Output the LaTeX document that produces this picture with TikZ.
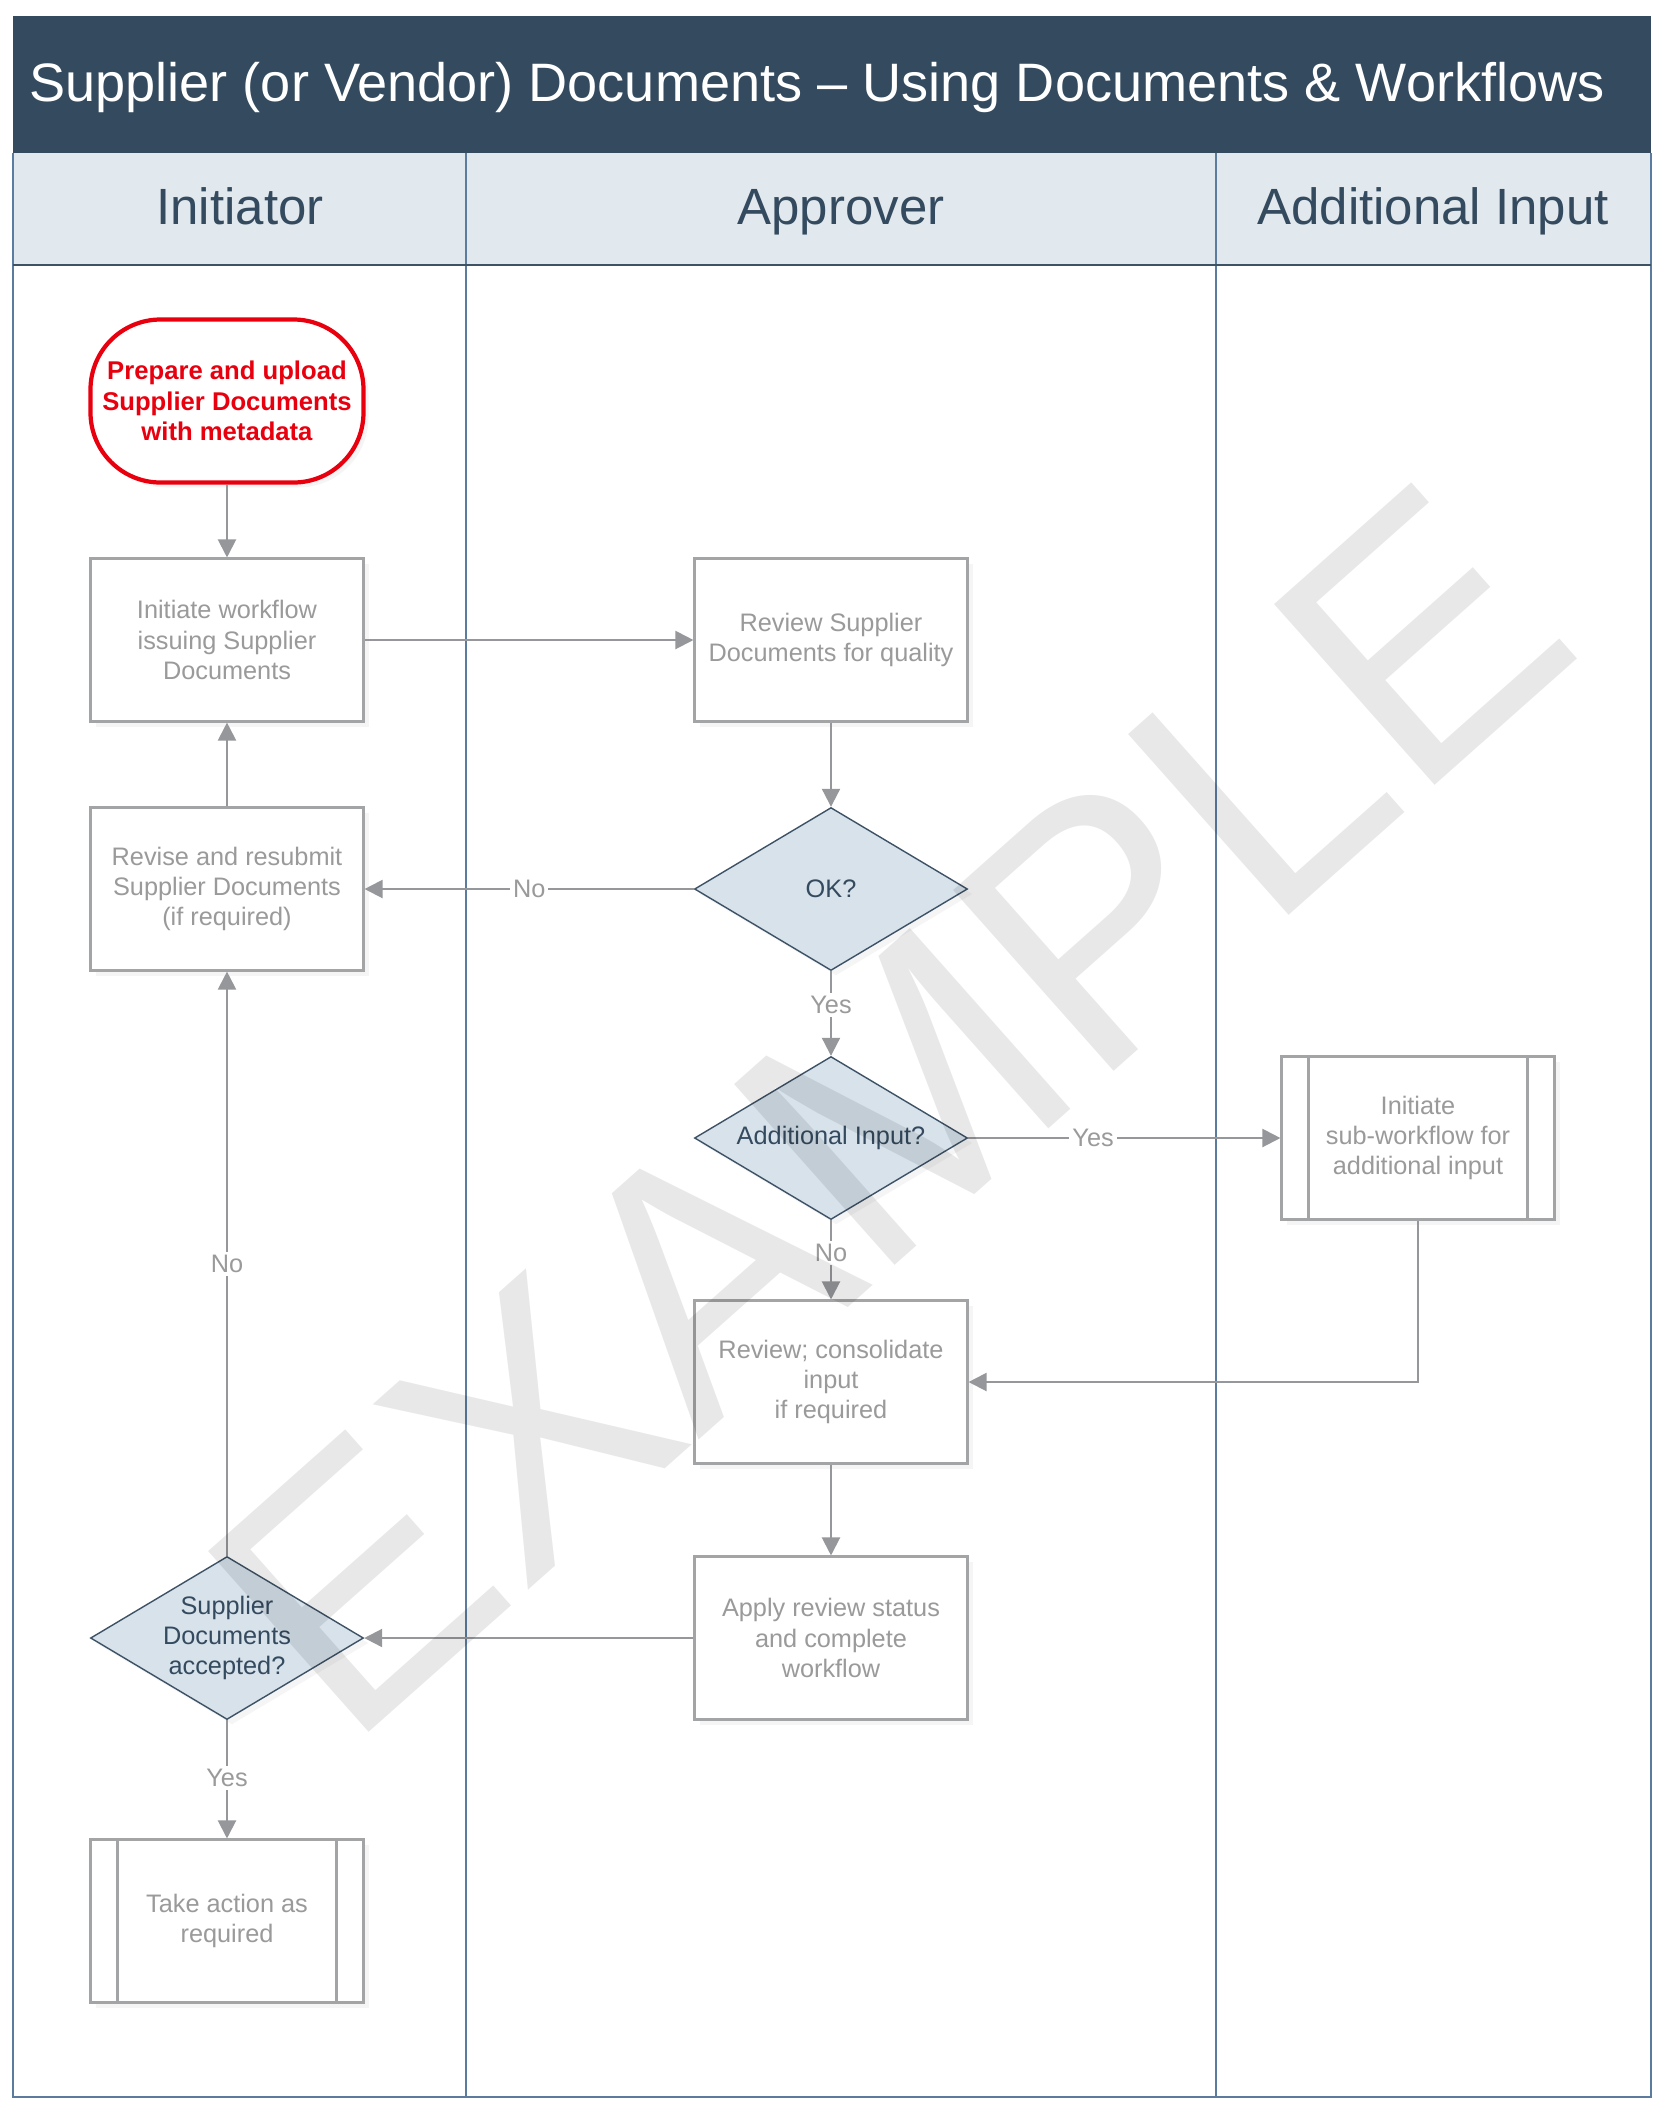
\documentclass[tikz,border=0pt]{standalone}
\usepackage{fontspec}
\setmainfont{Liberation Sans}
\usetikzlibrary{shapes.geometric,arrows.meta,shadows}
\definecolor{titlebar}{HTML}{344A5E}
\definecolor{headfill}{HTML}{E1E8EE}
\definecolor{laneline}{HTML}{5B7C9E}
\definecolor{boxgrey}{HTML}{A2A4A6}
\definecolor{boxtext}{HTML}{9A9A9A}
\definecolor{flowgrey}{HTML}{95979A}
\definecolor{decfill}{HTML}{D7E2EB}
\definecolor{decline}{HTML}{3E5266}
\definecolor{startred}{HTML}{E8000F}

\begin{document}
\begin{tikzpicture}[x=0.1mm, y=-0.1mm,
  box/.style={draw=boxgrey, line width=0.6pt, fill=white, minimum width=27.3mm,
    minimum height=16.3mm, align=center, text=boxtext, inner sep=1mm,
    font=\fontsize{7.2}{8.6}\selectfont,
    drop shadow={opacity=0.08, shadow xshift=0.5mm, shadow yshift=-0.5mm}},
  startbox/.style={box, draw=startred, line width=1.2pt, rounded corners=7mm,
    text=startred, font=\fontsize{7.3}{8.6}\selectfont\bfseries},
  subproc/.style={box, path picture={
    \draw[boxgrey, line width=0.6pt]
      ([xshift=2.7mm]path picture bounding box.north west) -- ([xshift=2.7mm]path picture bounding box.south west)
      ([xshift=-2.7mm]path picture bounding box.north east) -- ([xshift=-2.7mm]path picture bounding box.south east);}},
  decision/.style={diamond, draw=decline, line width=0.4pt, fill=decfill, minimum width=27.3mm,
    minimum height=16.3mm, inner sep=0pt,
    drop shadow={opacity=0.08, shadow xshift=0.5mm, shadow yshift=-0.5mm}},
  dectext/.style={align=center, text=titlebar, font=\fontsize{7.2}{8.6}\selectfont, inner sep=0pt},
  flow/.style={draw=flowgrey, line width=0.6pt, -{Triangle[length=1.8mm, width=1.8mm]}},
  lbl/.style={fill=white, text=boxtext, inner sep=0.3mm, font=\fontsize{7.2}{8.6}\selectfont},
  lane/.style={draw=laneline, line width=0.5pt},
  lanehead/.style={anchor=base, text=titlebar, font=\fontsize{14.5}{17}\selectfont},
  watermark/.style={text=black, text opacity=0.09, font=\fontsize{100}{100}\selectfont}]

\useasboundingbox (0,0) rectangle (1666,2110);

% swimlanes
\fill[titlebar] (13,16) rectangle (1651,153);
\node[anchor=base west, text=white, font=\fontsize{15.4}{18}\selectfont] (title) at (17,101)
  {Supplier (or Vendor) Documents – Using Documents \& Workflows};
\fill[headfill] (13,153) rectangle (1651,265);
\draw[lane] (13,153) -- (13,2097) -- (1651,2097) -- (1651,153);
\draw[lane] (466,153) -- (466,2097);
\draw[lane] (1216,153) -- (1216,2097);
\draw[decline, line width=0.8pt] (13,265) -- (1651,265);
\node[lanehead] (hinit) at (240,224) {Initiator};
\node[lanehead] (happr) at (841,224) {Approver};
\node[lanehead] (hadd) at (1433,224) {Additional Input};

% steps
\node[startbox] (start) at (227,401) {Prepare and upload\\Supplier Documents\\with metadata};
\node[box] (init) at (227,640) {Initiate workflow\\issuing Supplier\\Documents};
\node[box] (rev) at (227,889) {Revise and resubmit\\Supplier Documents\\(if required)};
\node[decision, label={[dectext]center:{Supplier\\Documents\\accepted?}}] (acc) at (227,1638) {};
\node[subproc] (act) at (227,1921) {Take action as\\required};

\node[box] (review) at (831,640) {Review Supplier\\Documents for quality};
\node[decision, label={[dectext]center:OK?}] (ok) at (831,889) {};
\node[decision, label={[dectext]center:Additional Input?}] (addin) at (831,1138) {};
\node[box] (cons) at (831,1382) {Review; consolidate\\input\\if required};
\node[box] (apply) at (831,1638) {Apply review status\\and complete\\workflow};

\node[subproc] (sub) at (1418,1138) {Initiate\\sub-workflow for\\additional input};

% connectors
\draw[flow] (start) -- (init);
\draw[flow] (init) -- (review);
\draw[flow] (review) -- (ok);
\draw[flow] (ok) -- node[lbl, pos=0.5] {No} (rev);
\draw[flow] (ok) -- node[lbl, pos=0.4] {Yes} (addin);
\draw[flow] (addin) -- node[lbl, pos=0.4] {Yes} (sub);
\draw[flow] (addin) -- node[lbl, pos=0.41] {No} (cons);
\draw[flow] (sub) |- (cons);
\draw[flow] (cons) -- (apply);
\draw[flow] (apply) -- (acc);
\draw[flow] (acc) -- node[lbl, pos=0.5] {No} (rev);
\draw[flow] (rev) -- (init);
\draw[flow] (acc) -- node[lbl, pos=0.49] {Yes} (act);

\node[watermark, rotate=41.6] (wm) at (888,1110) {EXAMPLE};
\end{tikzpicture}
\end{document}
